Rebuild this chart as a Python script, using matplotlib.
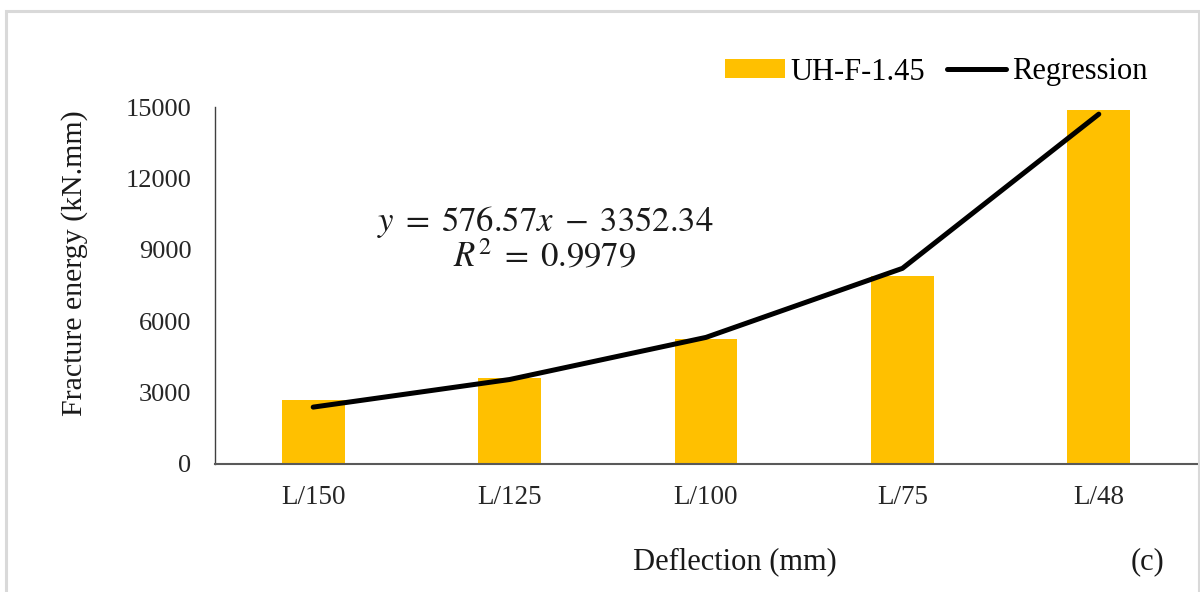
import matplotlib
matplotlib.use("Agg")
import matplotlib.pyplot as plt
from matplotlib.patches import Rectangle
from matplotlib.lines import Line2D
from matplotlib.patches import Patch

categories = ["L/150", "L/125", "L/100", "L/75", "L/48"]
bar_values = [2700, 3630, 5250, 7880, 14870]
regression_values = [2390, 3550, 5320, 8220, 14700]
y_ticks = [0, 3000, 6000, 9000, 12000, 15000]

plt.rcParams['font.family'] = ['Liberation Serif', 'DejaVu Serif']
plt.rcParams['mathtext.fontset'] = 'stix'

fig = plt.figure(figsize=(12, 5.92), dpi=100)
ax = fig.add_axes([215/1200, 1 - 464/592, 982/1200, (464 - 107)/592])

x = list(range(len(categories)))
ax.bar(x, bar_values, width=0.32, color="#FFC000", zorder=2)
ax.plot(x, regression_values, color="black", lw=3.6, solid_capstyle="round",
        solid_joinstyle="round", zorder=3)

ax.set_xlim(-0.5, len(categories) - 0.5)
ax.set_ylim(0, 15000)
ax.set_yticks(y_ticks)
ax.set_yticklabels([str(v) for v in y_ticks], fontsize=19, color="#262626")
ax.set_xticks(x)
ax.set_xticklabels(categories, fontsize=19.5, color="#262626")
ax.tick_params(axis="y", length=0, pad=17)
ax.tick_params(axis="x", length=0, pad=15)
for s in ["top", "right"]:
    ax.spines[s].set_visible(False)
ax.spines["left"].set_color("#404040")
ax.spines["bottom"].set_color("#595959")
ax.spines["left"].set_linewidth(1.0)
ax.spines["bottom"].set_linewidth(1.5)

ax.text(545/1200, 1 - 222/592, r"$y\;=\;576.57x\;-\;3352.34$", transform=fig.transFigure,
        ha="center", va="center", fontsize=25, color="#1a1a1a")
ax.text(545/1200, 1 - 258/592, r"$R^2\;=\;0.9979$", transform=fig.transFigure,
        ha="center", va="center", fontsize=25, color="#1a1a1a")

fig.text(735/1200, 1 - 562/592, "Deflection (mm)", ha="center", va="center", fontsize=22, color="#1a1a1a")
fig.text(1148/1200, 1 - 562/592, "(c)", ha="center", va="center", fontsize=22, color="#1a1a1a")
fig.text(75/1200, 1 - 263/592, "Fracture energy (kN.mm)", ha="center", va="center",
         rotation=90, fontsize=21.5, color="#1a1a1a")

handles = [Patch(facecolor="#FFC000", edgecolor="none"),
           Line2D([0], [0], color="black", lw=3.6, solid_capstyle="round")]
fig.legend(handles, ["UH-F-1.45", "Regression"], loc="center right",
           bbox_to_anchor=(1148/1200, 1 - 72/592), ncol=2, frameon=False,
           fontsize=22, handlelength=1.95, handleheight=0.55, handletextpad=0.2,
           columnspacing=0.7, borderpad=0, borderaxespad=0)

fig.add_artist(Rectangle((6/1200, -0.05), 1192.5/1200, 1.05 - 10.5/592, transform=fig.transFigure,
                         fill=False, edgecolor="#d9d9d9", lw=2.2))

fig.savefig("out.png", dpi=100)
